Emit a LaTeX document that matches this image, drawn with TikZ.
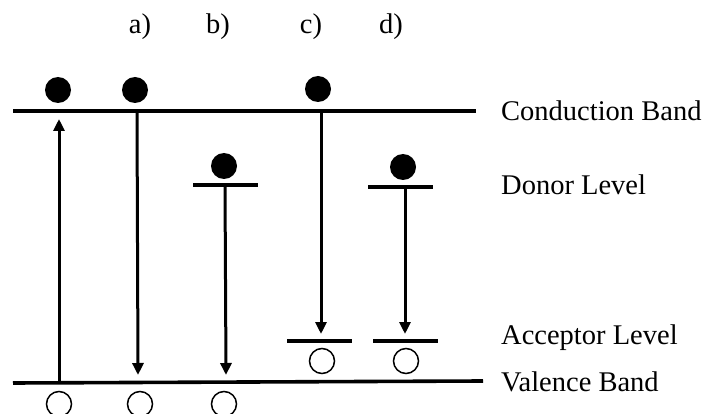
\documentclass[tikz,border=0pt]{standalone}
\usepackage{fontspec}
\setmainfont{Liberation Serif}
\usetikzlibrary{arrows.meta}
\begin{document}
\begin{tikzpicture}[x=1pt,y=-1pt,
  band/.style={line width=3.6pt},
  lvl/.style={line width=3.6pt},
  trans/.style={line width=3pt,-{Triangle[length=12pt,width=11pt]}},
  elec/.style={circle,fill=black,minimum size=26pt,inner sep=0pt},
  hole/.style={circle,draw=black,line width=1.5pt,minimum size=25pt,inner sep=0pt},
  lab/.style={font=\fontsize{28.5}{30}\selectfont,anchor=west,inner sep=0pt},
  tag/.style={font=\fontsize{28.5}{30}\selectfont,inner sep=0pt}]
\useasboundingbox (0,0) rectangle (704,414);
% bands
\coordinate (cbL) at (13,111); \coordinate (cbR) at (476,111);
\coordinate (vbL) at (13,383); \coordinate (vbR) at (483,381);
\draw[band] (cbL) -- (cbR);
\draw[band] (vbL) -- (vbR);
% donor levels
\coordinate (dbL) at (193,185); \coordinate (dbR) at (258,185);
\coordinate (ddL) at (368,187); \coordinate (ddR) at (433,187);
\draw[lvl] (dbL) -- (dbR);
\draw[lvl] (ddL) -- (ddR);
% acceptor levels
\coordinate (acL) at (287,341); \coordinate (acR) at (352,341);
\coordinate (adL) at (373,341); \coordinate (adR) at (438,341);
\draw[lvl] (acL) -- (acR);
\draw[lvl] (adL) -- (adR);
% electrons
\node[elec] (e0) at (58,90) {};
\node[elec] (ea) at (135,90) {};
\node[elec] (ec) at (318,89) {};
\node[elec] (eb) at (224,166) {};
\node[elec] (ed) at (403,167) {};
% holes
\node[hole] (h0) at (59,404) {};
\node[hole] (ha) at (140,404) {};
\node[hole] (hb) at (224,404) {};
\node[hole] (hc) at (322,361) {};
\node[hole] (hd) at (406,361) {};
% transition points
\coordinate (s0) at (59,383); \coordinate (t0) at (59,119);
\coordinate (sa) at (137,111); \coordinate (ta) at (138,375);
\coordinate (sb) at (225,185); \coordinate (tb) at (226,375);
\coordinate (sc) at (321,111); \coordinate (tc) at (321,334);
\coordinate (sd) at (405,187); \coordinate (td) at (405,334);
\draw[trans] (s0) -- (t0);
\draw[trans] (sa) -- (ta);
\draw[trans] (sb) -- (tb);
\draw[trans] (sc) -- (tc);
\draw[trans] (sd) -- (td);
% tags
\node[tag] (la) at (140,27) {a)};
\node[tag] (lb) at (218,27) {b)};
\node[tag] (lc) at (311,27) {c)};
\node[tag] (ld) at (391,27) {d)};
% labels
\node[lab] (lcb) at (501,111) {Conduction Band};
\node[lab] (ldl) at (501,185) {Donor Level};
\node[lab] (lal) at (501,338) {Acceptor Level};
\node[lab] (lvb) at (501,382) {Valence Band};
\end{tikzpicture}
\end{document}
